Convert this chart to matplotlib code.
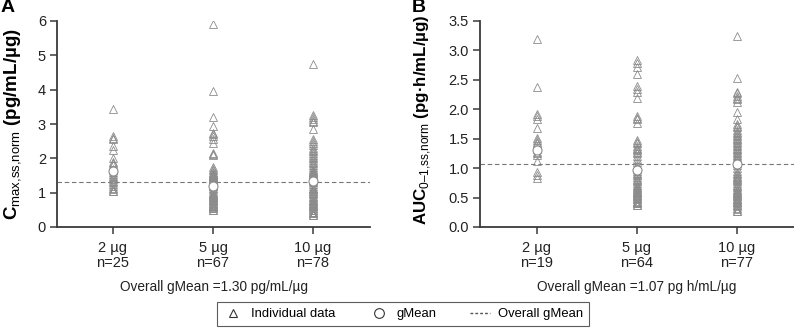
import numpy as np
import matplotlib
matplotlib.use('Agg')
import matplotlib.pyplot as plt
from matplotlib.lines import Line2D

plt.rcParams['font.family'] = ['Liberation Sans', 'DejaVu Sans']
plt.rcParams['mathtext.fontset'] = 'custom'
plt.rcParams['mathtext.rm'] = 'Liberation Sans'

# dose groups
groups = ['2 µg', '5 µg', '10 µg']

# panel A: Cmax,ss,norm (pg/mL/µg)
cmax_2 = [3.45, 2.65, 2.6, 2.55, 2.35, 2.25, 2.0, 1.9, 1.85, 1.8, 1.7, 1.65, 1.6,
          1.55, 1.5, 1.45, 1.4, 1.35, 1.3, 1.25, 1.2, 1.15, 1.1, 1.05, 1.05]
cmax_5 = [5.9, 3.95, 3.2, 2.95, 2.75, 2.7, 2.65, 2.55, 2.45, 2.15, 2.1, 2.12,
          1.75, 1.7, 1.65, 1.6, 1.55, 1.55, 1.5, 1.5, 1.45, 1.45, 1.4, 1.4, 1.35,
          1.35, 1.3, 1.3, 1.25, 1.25, 1.2, 1.2, 1.15, 1.1, 1.05, 1.0, 1.0, 0.95,
          0.95, 0.9, 0.9, 0.85, 0.85, 0.8, 0.8, 0.75, 0.75, 0.7, 0.7, 0.65, 0.65,
          0.6, 0.6, 0.55, 0.55, 0.5, 0.5, 1.58, 1.52, 1.48, 1.42, 0.92, 0.88, 0.78,
          0.68, 0.62, 0.58]
cmax_10 = [4.75, 3.25, 3.2, 3.15, 3.1, 3.05, 2.85, 2.55, 2.5, 2.45, 2.4, 2.3, 2.25,
           2.2, 2.15, 2.1, 2.05, 2.0, 1.95, 1.9, 1.85, 1.8, 1.75, 1.7, 1.65, 1.6,
           1.6, 1.55, 1.55, 1.5, 1.5, 1.45, 1.45, 1.4, 1.4, 1.35, 1.3, 1.25, 1.2,
           1.15, 1.1, 1.1, 1.05, 1.05, 1.0, 0.95, 0.9, 0.85, 0.8, 0.8, 0.75, 0.75,
           0.7, 0.7, 0.65, 0.65, 0.6, 0.6, 0.55, 0.55, 0.5, 0.5, 0.45, 0.45, 0.4,
           0.4, 0.35, 0.35, 1.62, 1.58, 1.52, 1.48, 1.42, 1.38, 1.12, 0.98, 0.88, 0.68]
cmax_gmean = [1.62, 1.2, 1.35]
cmax_overall = 1.30
cmax_n = [25, 67, 78]

# panel B: AUC0-1,ss,norm (pg·h/mL/µg)
auc_2 = [3.2, 2.38, 1.92, 1.88, 1.83, 1.68, 1.52, 1.48, 1.45, 1.42, 1.38, 1.33,
         1.28, 1.25, 1.22, 1.12, 0.93, 0.88, 0.83]
auc_5 = [2.83, 2.78, 2.72, 2.6, 2.4, 2.35, 2.3, 2.2, 1.88, 1.85, 1.83, 1.77, 1.48,
         1.42, 1.35, 1.3, 1.25, 1.2, 1.1, 1.05, 1.0, 0.95, 0.9, 0.88, 0.85, 0.82,
         0.8, 0.78, 0.75, 0.72, 0.7, 0.68, 0.65, 0.63, 0.62, 0.6, 0.6, 0.58, 0.57,
         0.55, 0.55, 0.53, 0.52, 0.5, 0.5, 0.48, 0.47, 0.45, 0.43, 0.42, 0.4, 0.4,
         0.38, 0.37, 1.45, 1.38, 1.32, 1.28, 1.15, 1.02, 0.98, 0.92, 0.66, 0.58]
auc_10 = [3.25, 2.53, 2.3, 2.27, 2.23, 2.2, 2.17, 2.13, 1.95, 1.83, 1.75, 1.7, 1.65,
          1.6, 1.55, 1.5, 1.45, 1.4, 1.38, 1.35, 1.3, 1.27, 1.25, 1.2, 1.18, 1.15,
          1.12, 1.1, 1.05, 1.0, 0.95, 0.9, 0.87, 0.85, 0.82, 0.8, 0.78, 0.75, 0.72,
          0.7, 0.68, 0.65, 0.62, 0.6, 0.58, 0.57, 0.55, 0.53, 0.52, 0.5, 0.48, 0.47,
          0.45, 0.43, 0.42, 0.4, 0.38, 0.37, 0.35, 0.33, 0.3, 0.28, 0.27, 1.72, 1.62,
          1.57, 1.52, 1.47, 1.42, 1.32, 1.22, 1.08, 0.92, 0.83, 0.63, 0.56, 0.46]
auc_gmean = [1.3, 0.97, 1.07]
auc_overall = 1.07
auc_n = [19, 64, 77]

GRAY = '#8c8c8c'
SPINE = '#3a3a3a'


def draw_panel(ax, series, gmeans, overall, ns, ylim, yticks, yfmt, ylabel, xlabel,
               label_size, label_xy):
    for i, vals in enumerate(series):
        x = np.full(len(vals), i + 1)
        ax.plot(x, vals, ls='none', marker='^', ms=5.8, mfc='none', mec=GRAY,
                mew=0.6, zorder=3)
    ax.plot(range(1, 4), gmeans, ls='none', marker='o', ms=6.5, mfc='white',
            mec=GRAY, mew=0.8, zorder=4)
    ax.axhline(overall, color='#777777', ls=(0, (4, 2.5)), lw=0.8, zorder=2)
    ax.set_ylim(*ylim)
    ax.set_yticks(yticks)
    ax.set_yticklabels([yfmt.format(t) for t in yticks])
    ax.set_xticks([1, 2, 3])
    ax.set_xticklabels(['{}\nn={}'.format(g, n) for g, n in zip(groups, ns)],
                       linespacing=1.1)
    ax.set_xlim(0.44, 3.57)
    ax.spines['top'].set_visible(False)
    ax.spines['right'].set_visible(False)
    for s in ('left', 'bottom'):
        ax.spines[s].set_color(SPINE)
        ax.spines[s].set_linewidth(1.3)
    ax.tick_params(direction='out', length=5, width=1.1, color=SPINE,
                   labelsize=10.5, labelcolor='#222222')
    ax.tick_params(axis='x', pad=5)
    ax.tick_params(axis='y', pad=3)
    ax.set_ylabel(ylabel, fontsize=label_size, fontweight='bold')
    ax.yaxis.set_label_coords(*label_xy)
    ax.set_xlabel(xlabel, fontsize=9.8, color='#222222', labelpad=7)


fig = plt.figure(figsize=(7.94, 3.35), dpi=100)
axA = fig.add_axes([57 / 794, 108 / 335, 313 / 794, 206 / 335])
axB = fig.add_axes([480 / 794, 108 / 335, 314 / 794, 206 / 335])

draw_panel(axA, [cmax_2, cmax_5, cmax_10], cmax_gmean, cmax_overall, cmax_n,
           (0, 6), [0, 1, 2, 3, 4, 5, 6], '{:g}',
           r'C$_{\mathrm{max{,}ss{,}norm}}$ (pg/mL/µg)',
           'Overall gMean =1.30 pg/mL/µg', 13.5, (-0.106, 0.5))
draw_panel(axB, [auc_2, auc_5, auc_10], auc_gmean, auc_overall, auc_n,
           (0, 3.5), [0, 0.5, 1, 1.5, 2, 2.5, 3, 3.5], '{:.1f}',
           'AUC$_{\\mathrm{0–1{,}ss{,}norm}}$ (pg·h/mL/µg)',
           'Overall gMean =1.07 pg h/mL/µg', 12.2, (-0.149, 0.52))
axB.set_xlim(0.43, 3.57)

fig.text(1 / 794, 1 - 7 / 335, 'A', fontsize=14, fontweight='bold', va='center')
fig.text(412 / 794, 1 - 7 / 335, 'B', fontsize=14, fontweight='bold', va='center')

handles = [
    Line2D([], [], ls='none', marker='^', ms=6, mfc='none', mec='#333333', mew=0.8),
    Line2D([], [], ls='none', marker='o', ms=7, mfc='white', mec='#333333', mew=0.8),
    Line2D([], [], color='#555555', ls=(0, (2, 1.5)), lw=1),
]
leg = fig.legend(handles, ['Individual data', 'gMean', 'Overall gMean'],
                 loc='center', bbox_to_anchor=(403 / 794, 1 - 314 / 335), ncol=3,
                 fontsize=9.4, frameon=True, fancybox=False, edgecolor='#333333',
                 handlelength=1.5, handletextpad=0.6, columnspacing=2.6,
                 borderpad=0.45)
leg.get_frame().set_linewidth(0.8)

fig.savefig('out.png', dpi=100)
